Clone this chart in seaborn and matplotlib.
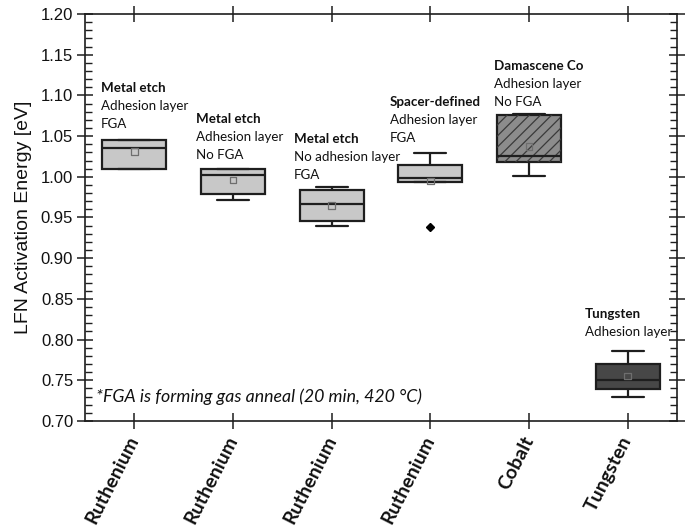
import numpy as np
import pandas as pd
import matplotlib
matplotlib.use("Agg")
import matplotlib.pyplot as plt
import matplotlib.transforms as mtransforms
import seaborn as sns
from matplotlib.ticker import MultipleLocator
from matplotlib.patches import PathPatch

# ---------------- data ----------------
group_ids = ["G1", "G2", "G3", "G4", "G5", "G6"]
materials = ["Ruthenium", "Ruthenium", "Ruthenium", "Ruthenium", "Cobalt", "Tungsten"]
whisker_low = [1.010, 0.971, 0.939, 0.994, 1.001, 0.730]
q1 = [1.010, 0.979, 0.946, 0.994, 1.0186, 0.739]
median = [1.0357, 1.0022, 0.967, 0.998, 1.0256, 0.750]
q3 = [1.0452, 1.0096, 0.984, 1.015, 1.0756, 0.770]
whisker_high = [1.0452, 1.0096, 0.988, 1.029, 1.077, 0.786]
outlier = [None, None, None, 0.938, None, None]
means = [1.031, 0.996, 0.965, 0.995, 1.037, 0.755]
titles = ["Metal etch", "Metal etch", "Metal etch", "Spacer-defined", "Damascene Co", "Tungsten"]
details = [["Adhesion layer", "FGA"],
           ["Adhesion layer", "No FGA"],
           ["No adhesion layer", "FGA"],
           ["Adhesion layer", "FGA"],
           ["Adhesion layer", "No FGA"],
           ["Adhesion layer"]]
footnote = "*FGA is forming gas anneal (20 min, 420 \u00b0C)"
ylabel = "LFN Activation Energy [eV]"

# long table built from the five-number summaries
rows = []
for g, lo, a, m, b, hi, out in zip(group_ids, whisker_low, q1, median, q3, whisker_high, outlier):
    first = out if out is not None else lo
    for v in (first, a, m, b, hi):
        rows.append({"group": g, "value": v})
df = pd.DataFrame(rows)

# ---------------- style ----------------
sns.set_theme(style="white")
plt.rcParams["font.family"] = ["Liberation Sans", "DejaVu Sans"]
plt.rcParams["hatch.linewidth"] = 0.9

box_colors = ["#c8c8c8", "#c8c8c8", "#c8c8c8", "#c8c8c8", "#8c8c8c", "#474747"]
line_c = "#1e1e1e"

fig = plt.figure(figsize=(6.91, 5.31), dpi=100)
ax = fig.add_axes([85 / 691, 1 - 421 / 531, (677 - 85) / 691, (421 - 14) / 531])

sns.boxplot(data=df, x="group", y="value", order=group_ids, hue="group",
            hue_order=group_ids, palette=box_colors, legend=False,
            width=0.65, linewidth=1.6, linecolor=line_c, whis=1.5,
            flierprops=dict(marker="D", markerfacecolor="black",
                            markeredgecolor="black", markersize=4.5),
            ax=ax)

# hatch for the cobalt box
box_patches = [p for p in ax.patches if isinstance(p, PathPatch)]
cob = box_patches[4]
overlay = PathPatch(cob.get_path(), transform=cob.get_transform(),
                    facecolor="none", edgecolor="#3a3a3a", linewidth=0,
                    hatch="///", zorder=cob.get_zorder() + 0.01)
ax.add_patch(overlay)

# mean markers
ax.scatter(np.arange(len(means)), means, marker="s", s=22, facecolors="none",
           edgecolors="#6e6e6e", linewidths=0.9, zorder=6)

# annotations
lab_font = ["Lato", "DejaVu Sans"]
title_offset = [-0.34, -0.375, -0.382, -0.409, -0.355, -0.433]
title_y = [1.109, 1.0714, 1.046, 1.0915, 1.136, 0.8315]
for i, (t, det) in enumerate(zip(titles, details)):
    x = i + title_offset[i]
    ax.annotate(t, xy=(x, title_y[i]), xytext=(0, 0), textcoords="offset points",
                ha="left", va="center", fontsize=9.6, fontweight="bold",
                family=lab_font, color="#111111")
    for k, line in enumerate(det):
        ax.annotate(line, xy=(x, title_y[i]), xytext=(0, -13.0 * (k + 1)),
                    textcoords="offset points", ha="left", va="center",
                    fontsize=9.6, family=lab_font, color="#111111")

ax.text(-0.389, 0.7299, footnote, ha="left", va="center", fontsize=12.8,
        style="italic", family=lab_font, color="#111111")

# axes
ax.set_xlim(-0.5, 5.5)
ax.set_ylim(0.70, 1.20)
ax.yaxis.set_major_locator(MultipleLocator(0.05))
ax.yaxis.set_minor_locator(MultipleLocator(0.01))
ax.yaxis.set_major_formatter(matplotlib.ticker.FormatStrFormatter("%.2f"))
ax.set_xlabel("")
ax.set_ylabel(ylabel, fontsize=14, color="#111111", labelpad=6)
ax.set_xticks(range(len(materials)))
ax.set_xticklabels(materials, rotation=63, ha="right", va="center",
                   rotation_mode="anchor", fontsize=14, fontweight="bold",
                   family=lab_font, color="#111111")
shift = mtransforms.ScaledTranslation(7 / 100, 0, fig.dpi_scale_trans)
for lbl in ax.get_xticklabels():
    lbl.set_transform(lbl.get_transform() + shift)
for s in ax.spines.values():
    s.set_visible(True)
    s.set_color(line_c)
    s.set_linewidth(1.2)
ax.tick_params(axis="both", which="major", direction="inout", length=11,
               width=1.1, color=line_c, top=True, right=True, bottom=True, left=True)
ax.tick_params(axis="y", which="minor", direction="in", length=5, width=1.0,
               color=line_c, left=True, right=True)
ax.tick_params(axis="y", which="major", labelsize=12, labelcolor="#111111", pad=3)
ax.tick_params(axis="x", which="major", pad=6)
ax.grid(False)

fig.savefig("out.png", dpi=100)
